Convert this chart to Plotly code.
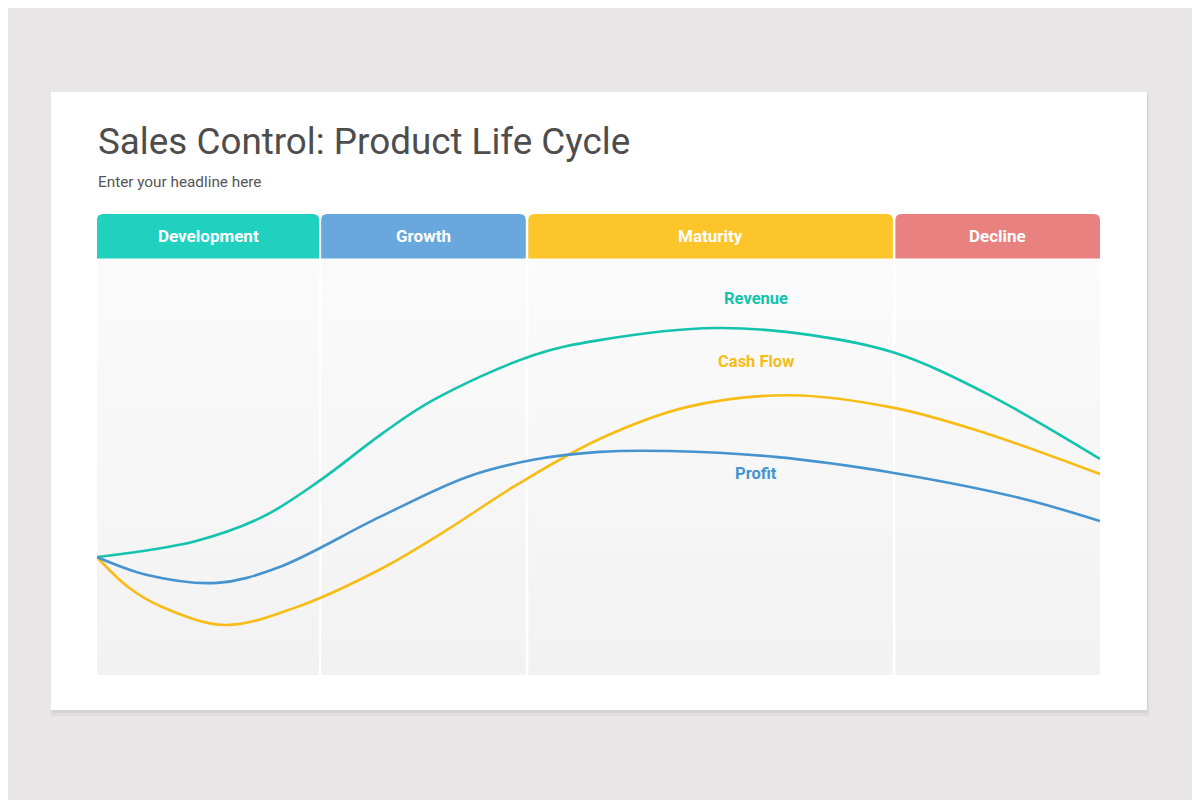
import plotly.graph_objects as go

# ---------------- data ----------------
title_text = "Sales Control: Product Life Cycle"
subtitle_text = "Enter your headline here"

phase_names = ["Development", "Growth", "Maturity", "Decline"]
phase_start = [0.0, 22.35, 43.0, 79.6]
phase_end = [22.15, 42.75, 79.35, 100.0]
phase_colors = ["#1fd1be", "#68a8dc", "#fcc62b", "#e8817f"]

rev_x = [0, 9.8, 16.5, 22.2, 28.5, 33.5, 43.5, 50.1, 61.7, 71.2, 79.6, 88.6, 100]
rev_y = [28.3, 32.1, 37.9, 46.6, 58.0, 65.9, 76.7, 80.3, 83.2, 81.5, 77.2, 67.6, 51.8]

cash_x = [0, 3.1, 6.5, 12.8, 19.7, 28.2, 34.9, 41.5, 50.1, 58.9, 69.1, 79.6, 88.6, 100]
cash_y = [28.3, 21.1, 16.3, 12.0, 16.1, 25.3, 34.8, 45.1, 56.6, 64.3, 67.1, 64.0, 58.0, 48.2]

prof_x = [0, 5, 12, 18, 28.2, 36.9, 43.5, 50.1, 57.1, 67.6, 79.6, 92.1, 100]
prof_y = [28.3, 24.0, 22.1, 25.7, 37.9, 47.5, 51.6, 53.5, 53.7, 52.3, 48.4, 42.4, 36.9]

series = [
    ("Revenue", rev_x, rev_y, "#13c3ad", 90.2),
    ("Cash Flow", cash_x, cash_y, "#f8bc16", 75.1),
    ("Profit", prof_x, prof_y, "#4594d0", 48.4),
]
label_x = 65.7

# ---------------- figure ----------------
W, H = 1200, 800
OFF = 8  # page offset of the plot inside the browser window
PANEL_TOP, HEADER_TOP = 100.0, 110.55


def fx(p):
    return (p - OFF) / W


def fy(p):
    return 1 - (p - OFF) / H


fig = go.Figure()

# column backgrounds with vertical gradient
for s, e in zip(phase_start, phase_end):
    fig.add_trace(go.Scatter(
        x=[s, e, e, s, s], y=[0, 0, PANEL_TOP, PANEL_TOP, 0],
        mode="lines", line=dict(width=0), fill="toself",
        fillgradient=dict(type="vertical",
                          colorscale=[[0, "#f2f2f2"], [1, "#fbfbfb"]]),
        hoverinfo="skip", showlegend=False))

# curves
for name, xs, ys, col, ly in series:
    fig.add_trace(go.Scatter(
        x=xs, y=ys, mode="lines", name=name,
        line=dict(color=col, width=2.6, shape="spline", smoothing=1.0),
        showlegend=False))

shapes = []
# card shadow + card
shapes.append(dict(type="rect", xref="paper", yref="paper",
                   x0=fx(51), x1=fx(1149), y0=fy(716), y1=fy(94),
                   fillcolor="rgba(0,0,0,0.035)", line=dict(width=0), layer="below"))
shapes.append(dict(type="rect", xref="paper", yref="paper",
                   x0=fx(52), x1=fx(1148), y0=fy(713), y1=fy(93),
                   fillcolor="rgba(0,0,0,0.04)", line=dict(width=0), layer="below"))
shapes.append(dict(type="rect", xref="paper", yref="paper",
                   x0=fx(51), x1=fx(1147), y0=fy(710), y1=fy(92),
                   fillcolor="#ffffff", line=dict(width=0), layer="below"))

# headers with rounded top corners
rx, ry = 0.6, 1.45
annotations = []
for name, s, e, c in zip(phase_names, phase_start, phase_end, phase_colors):
    y0, y1 = PANEL_TOP - 0.1, HEADER_TOP
    path = (f"M {s},{y0} L {s},{y1-ry} Q {s},{y1} {s+rx},{y1} "
            f"L {e-rx},{y1} Q {e},{y1} {e},{y1-ry} L {e},{y0} Z")
    shapes.append(dict(type="path", xref="x", yref="y", path=path,
                       fillcolor=c, line=dict(width=0)))
    annotations.append(dict(x=(s+e)/2, y=(PANEL_TOP+HEADER_TOP)/2, xref="x", yref="y",
                            text=f"<b>{name}</b>", showarrow=False,
                            font=dict(family="Roboto", size=17, color="#ffffff")))

for name, xs, ys, col, ly in series:
    annotations.append(dict(x=label_x, y=ly, xref="x", yref="y",
                            text=f"<b>{name}</b>", showarrow=False,
                            font=dict(family="Roboto", size=16.5, color=col)))

annotations.append(dict(x=fx(96), y=fy(141), xref="paper", yref="paper",
                        xanchor="left", yanchor="middle", text=title_text,
                        showarrow=False,
                        font=dict(family="Roboto", size=36.8, color="#4d4d4d")))
annotations.append(dict(x=fx(96), y=fy(182), xref="paper", yref="paper",
                        xanchor="left", yanchor="middle", text=subtitle_text,
                        showarrow=False,
                        font=dict(family="Roboto", size=15.3, color="#555555")))

fig.update_layout(
    width=W, height=H, margin=dict(l=0, r=0, t=0, b=0),
    paper_bgcolor="#e8e6e7", plot_bgcolor="rgba(0,0,0,0)",
    xaxis=dict(domain=[fx(97), fx(1100)], range=[0, 100], visible=False, fixedrange=True),
    yaxis=dict(domain=[fy(675), fy(214)], range=[0, HEADER_TOP], visible=False, fixedrange=True),
    shapes=shapes, annotations=annotations, showlegend=False,
)

fig.write_html("out.html")
